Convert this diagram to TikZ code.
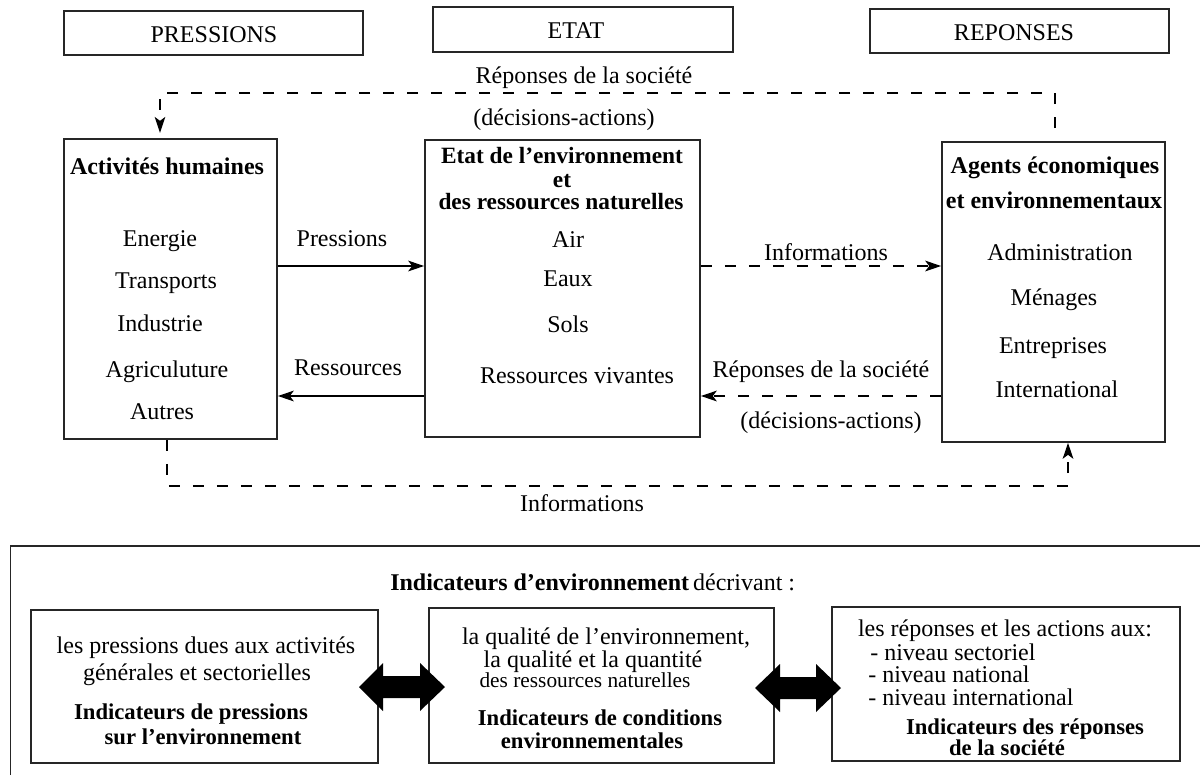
\documentclass[tikz,border=0pt]{standalone}
\usepackage{fontspec}
\setmainfont{Liberation Serif}
\usetikzlibrary{arrows.meta,fit}
\begin{document}
\begin{tikzpicture}[x=0.75pt,y=-0.75pt,
  box/.style={draw=black!85, line width=1.2pt, inner sep=0pt},
  frame/.style={draw=black!85, line width=1.2pt},
  t/.style={font=\fontsize{18}{18}\selectfont, inner sep=0pt, text height=13pt, text depth=1pt},
  tb/.style={t, font=\fontsize{18}{18}\selectfont\bfseries},
  tt/.style={t, font=\fontsize{17.5}{17.5}\selectfont\bfseries, text height=11pt, text depth=0pt},
  tb2/.style={t, font=\fontsize{17}{17}\selectfont\bfseries, text height=12pt, text depth=1pt},
  ts/.style={t, font=\fontsize{16}{16}\selectfont, text height=11pt, text depth=1pt},
  dline/.style={line width=1pt, dash pattern=on 8.25pt off 9.75pt},
  sline/.style={line width=1pt},
  tip/.style={-{Stealth[length=12pt,width=8pt,inset=3pt]}},
  dbl/.style={fill=black}
]
\useasboundingbox (0,0) rectangle (1200,775);

% header boxes
\node[box, fit={(64,11) (363,55)}] (hP) {};
\node[t] (hPt) at (214,34) {PRESSIONS};
\node[box, fit={(433,7) (733,52)}] (hE) {};
\node[t] (hEt) at (576,30) {ETAT};
\node[box, fit={(870,9) (1169,53)}] (hR) {};
\node[t] (hRt) at (1014,32) {REPONSES};

% main boxes
\node[box, fit={(64,139) (277,439)}] (b1) {};
\node[box, fit={(425,140) (700,437)}] (b2) {};
\node[box, fit={(942,142) (1165,442)}] (b3) {};

% box 1 text
\node[tb] (a0) at (167,166) {Activités humaines};
\node[t] (a1) at (160,238) {Energie};
\node[t] (a2) at (166,280) {Transports};
\node[t] (a3) at (160,323) {Industrie};
\node[t] (a4) at (167,369) {Agriculuture};
\node[t] (a5) at (162,411) {Autres};

% box 2 text
\node[tt] (e0) at (562,156) {Etat de l'environnement};
\node[tt] (e1) at (562,180) {et};
\node[tt] (e2) at (561,202) {des ressources naturelles};
\node[t] (e3) at (568,239) {Air};
\node[t] (e4) at (568,278) {Eaux};
\node[t] (e5) at (568,324) {Sols};
\node[t] (e6) at (577,375) {Ressources vivantes};

% box 3 text
\node[tb] (g0) at (1055,165) {Agents économiques};
\node[tb] (g1) at (1054,200) {et environnementaux};
\node[t] (g2) at (1060,252) {Administration};
\node[t] (g3) at (1054,297) {Ménages};
\node[t] (g4) at (1053,345) {Entreprises};
\node[t] (g5) at (1057,389) {International};

% horizontal connectors
\coordinate (yP) at (0,266);
\coordinate (yR) at (0,396);
\draw[sline, tip] (b1.east |- yP) -- (b2.west |- yP);
\draw[sline, tip] (b2.west |- yR) -- (b1.east |- yR);
\draw[dline, tip] (b2.east |- yP) -- (b3.west |- yP);
\draw[dline, tip] (b3.west |- yR) -- (b2.east |- yR);

\node[t] (lP) at (342,238) {Pressions};
\node[t] (lR) at (348,367) {Ressources};
\node[t] (lI) at (826,252) {Informations};
\node[t] (lRs) at (821,369) {Réponses de la société};
\node[t] (lDa) at (831,420) {(décisions-actions)};

% top dashed loop
\coordinate (tR) at (1055,128);
\coordinate (yT) at (0,93);
\coordinate (xL) at (160,0);
\draw[dline, tip, shorten >=4pt] (tR) -- (tR |- yT) -- (xL |- yT) -- (b1.north -| xL);
\node[t] (tRs) at (584,75) {Réponses de la société};
\node[t] (tDa) at (564,117) {(décisions-actions)};

% bottom dashed loop
\coordinate (xA) at (167,0);
\coordinate (yB) at (0,486);
\coordinate (xC) at (1068,0);
\draw[dline, tip] (b1.south -| xA) -- (xA |- yB) -- (xC |- yB) -- (b3.south -| xC);
\node[t] (bI) at (582,503) {Informations};

% bottom frame
\draw[frame] (10.5,775) -- (10.5,546) -- (1200,546);
\node[t, anchor=west] (ih) at (390,582) {\textbf{Indicateurs d'environnement}\,décrivant :};

\node[box, fit={(31,610) (378,763)}] (i1) {};
\node[box, fit={(429,608) (774,763)}] (i2) {};
\node[box, fit={(832,607) (1180,761)}] (i3) {};

\node[t] (p1) at (206,645) {les pressions dues aux activités};
\node[t] (p2) at (197,672) {générales et sectorielles};
\node[tb2] (p3) at (191,712) {Indicateurs de pressions};
\node[tb2] (p4) at (203,737) {sur l'environnement};

\node[t] (q1) at (606,636) {la qualité de l'environnement,};
\node[t] (q2) at (593,659) {la qualité et la quantité};
\node[ts] (q3) at (585,681) {des ressources naturelles};
\node[tb2] (q4) at (600,718) {Indicateurs de conditions};
\node[tb2] (q5) at (592,741) {environnementales};

\node[t] (r1) at (1005,628) {les réponses et les actions aux:};
\node[t, anchor=west] (r2) at (870,652) {- niveau sectoriel};
\node[t, anchor=west] (r3) at (868,674) {- niveau national};
\node[t, anchor=west] (r4) at (868,697) {- niveau international};
\node[tb2] (r5) at (1025,727) {Indicateurs des réponses};
\node[tb2] (r6) at (1007,748) {de la société};

% double arrows
\fill[dbl] (359,687) -- (383,663) -- (383,676) -- (420,676) -- (420,663) -- (445,687) -- (420,711) -- (420,698) -- (383,698) -- (383,711) -- cycle;
\fill[dbl] (755,688) -- (780,664) -- (780,677) -- (816,677) -- (816,664) -- (841,688) -- (816,712) -- (816,699) -- (780,699) -- (780,712) -- cycle;
\end{tikzpicture}
\end{document}
